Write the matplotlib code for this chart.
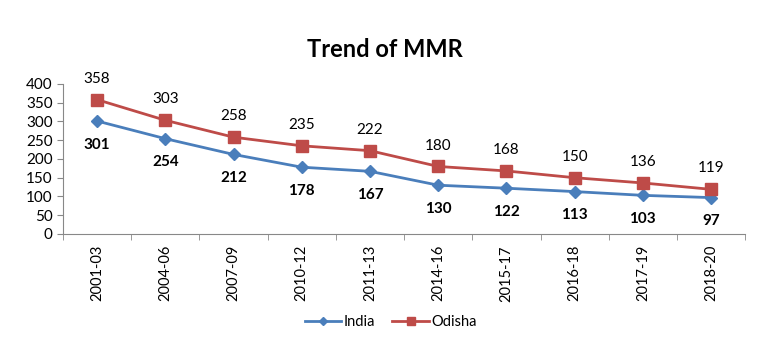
import matplotlib.pyplot as plt
import numpy as np

periods = ['2001-03', '2004-06', '2007-09', '2010-12', '2011-13',
           '2014-16', '2015-17', '2016-18', '2017-19', '2018-20']
india = [301, 254, 212, 178, 167, 130, 122, 113, 103, 97]
odisha = [358, 303, 258, 235, 222, 180, 168, 150, 136, 119]

plt.rcParams['font.family'] = ['Lato', 'DejaVu Sans']

fig = plt.figure(figsize=(7.69, 3.54), dpi=100)
ax = fig.add_axes([0.082, 0.339, 0.887, 0.424])

x = np.arange(len(periods))
blue = '#4A7EBB'
red = '#BE4B48'
ax.plot(x, india, color=blue, lw=2, marker='D', ms=6, label='India')
ax.plot(x, odisha, color=red, lw=2, marker='s', ms=8, label='Odisha')

for xi, v in zip(x, india):
    ax.annotate(str(v), (xi, v), xytext=(0, -12), textcoords='offset points',
                ha='center', va='top', fontsize=11, fontweight='bold')
for xi, v in zip(x, odisha):
    ax.annotate(str(v), (xi, v), xytext=(0, 10), textcoords='offset points',
                ha='center', va='bottom', fontsize=11)

ax.set_xlim(-0.5, len(periods) - 0.5)
ax.set_ylim(0, 400)
ax.set_yticks(range(0, 401, 50))
ax.set_xticks(x)
ax.set_xticklabels(periods, rotation=90, fontsize=10.5)
ax.set_xticks(np.arange(-0.5, len(periods), 1), minor=True)
ax.tick_params(axis='x', which='major', length=0, pad=8)
ax.tick_params(axis='x', which='minor', length=4, color='#888888')
ax.tick_params(axis='y', length=4, color='#888888', labelsize=11)
for s in ['top', 'right']:
    ax.spines[s].set_visible(False)
for s in ['left', 'bottom']:
    ax.spines[s].set_color('#888888')

fig.text(0.5, 0.86, 'Trend of MMR', ha='center', va='center',
         fontsize=17, fontweight='bold')
fig.legend(loc='center', bbox_to_anchor=(0.508, 0.09), ncol=2, frameon=False,
           fontsize=10.5, handlelength=2.5, columnspacing=1.2,
           handletextpad=0.15, markerscale=0.7)

fig.savefig('out.png', dpi=100)
